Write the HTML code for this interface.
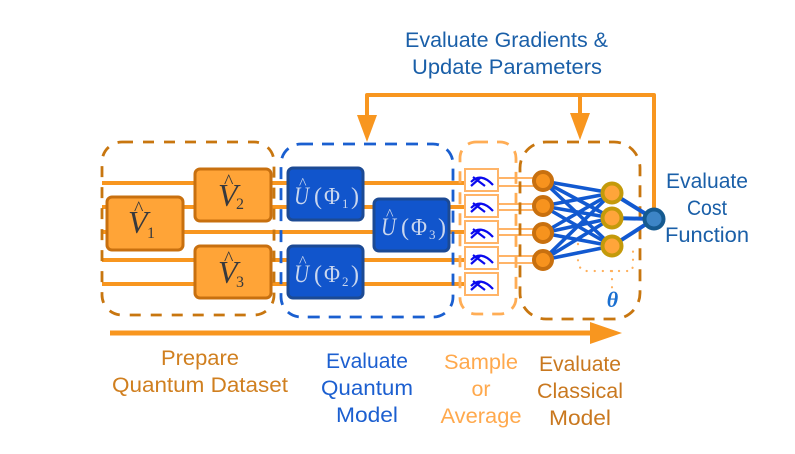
<!DOCTYPE html>
<html>
<head>
<meta charset="utf-8">
<style>
html,body{margin:0;padding:0;background:#fff;width:795px;height:454px;overflow:hidden}
svg{display:block}
text{font-family:"Liberation Sans",sans-serif}
.l{font-size:21px;text-anchor:middle}
text.r{font-family:"Liberation Serif",serif}
.i{font-style:italic}
.V{font-size:32px;font-style:italic}
.D{font-size:16px}
.H{font-size:20px}
.U{font-size:25px;font-style:italic}
.P{font-size:24px}
.S{font-size:13px}
.H2{font-size:16px}
</style>
</head>
<body>
<svg width="795" height="454" viewBox="0 0 795 454" xmlns="http://www.w3.org/2000/svg">
<rect width="795" height="454" fill="#fff"/>

<!-- wires -->
<g stroke="#f8961f" stroke-width="4" fill="none">
<path d="M102 183H465M102 207H465M102 232H465M102 260H465M102 284H465"/>
</g>

<!-- double wires -->
<g stroke="#ffb468" stroke-width="2" fill="none">
<path d="M499 178H536M499 186H536M499 204H536M499 210H536M499 229H536M499 235H536M499 256H536M499 263H536"/>
</g>

<!-- dashed boxes -->
<g fill="none" stroke-width="2.8">
<rect x="102" y="142" width="172" height="173" rx="20" stroke="#c8760f" stroke-dasharray="11 10"/>
<rect x="281" y="144" width="172" height="173" rx="20" stroke="#1a5fd0" stroke-dasharray="12 9"/>
<rect x="460" y="142" width="56" height="172" rx="16" stroke="#ffad55" stroke-dasharray="12 9"/>
<rect x="520" y="142" width="120" height="177" rx="26" stroke="#c8760f" stroke-dasharray="12 9"/>
</g>

<!-- V boxes -->
<g fill="#ffa437" stroke="#c8700f" stroke-width="3">
<rect x="195" y="169" width="76" height="52" rx="5"/>
<rect x="107" y="197" width="76" height="53" rx="5"/>
<rect x="195" y="246" width="76" height="52" rx="5"/>
</g>
<g fill="#37393d">
<text class="r V" x="218" y="206">V</text><text class="r H" x="224" y="188">^</text><text class="r D" x="236" y="209">2</text>
<text class="r V" x="128" y="233">V</text><text class="r H" x="134" y="215">^</text><text class="r D" x="147" y="238">1</text>
<text class="r V" x="218" y="283">V</text><text class="r H" x="224" y="265">^</text><text class="r D" x="236" y="287">3</text>
</g>

<!-- U boxes -->
<g fill="#1155cc" stroke="#1c4a94" stroke-width="3">
<rect x="288" y="168" width="75" height="52" rx="5"/>
<rect x="288" y="246" width="75" height="52" rx="5"/>
<rect x="374" y="199" width="75" height="52" rx="5"/>
</g>
<g fill="#c9d6ee">
<text class="r U" x="294" y="204" textLength="15" lengthAdjust="spacingAndGlyphs">U</text><text class="r H2" x="299" y="188.5">^</text><text class="r P" x="314" y="204">(</text><text class="r P" x="324" y="204" textLength="16" lengthAdjust="spacingAndGlyphs">Φ</text><text class="r S" x="342" y="208">1</text><text class="r P" x="351" y="204">)</text>
<text class="r U" x="294" y="282" textLength="15" lengthAdjust="spacingAndGlyphs">U</text><text class="r H2" x="299" y="266.5">^</text><text class="r P" x="314" y="282">(</text><text class="r P" x="324" y="282" textLength="16" lengthAdjust="spacingAndGlyphs">Φ</text><text class="r S" x="342" y="286">2</text><text class="r P" x="351" y="282">)</text>
<text class="r U" x="381" y="235" textLength="15" lengthAdjust="spacingAndGlyphs">U</text><text class="r H2" x="386" y="219.5">^</text><text class="r P" x="401" y="235">(</text><text class="r P" x="411" y="235" textLength="16" lengthAdjust="spacingAndGlyphs">Φ</text><text class="r S" x="429" y="239">3</text><text class="r P" x="438" y="235">)</text>
</g>

<!-- measure boxes -->
<g fill="#fff" stroke="#ffb468" stroke-width="2">
<rect x="465" y="169" width="33" height="22"/>
<rect x="465" y="195" width="33" height="22"/>
<rect x="465" y="221" width="33" height="22"/>
<rect x="465" y="247" width="33" height="22"/>
<rect x="465" y="273" width="33" height="22"/>
</g>
<g fill="none" stroke="#0a0aee" stroke-width="2.2">
<path d="M471 182Q481 172 493 185M473 177L485 186M471 186L480 178"/>
<path d="M471 208Q481 198 493 211M473 203L485 212M471 212L480 204"/>
<path d="M471 234Q481 224 493 237M473 229L485 238M471 238L480 230"/>
<path d="M471 260Q481 250 493 263M473 255L485 264M471 264L480 256"/>
<path d="M471 286Q481 276 493 289M473 281L485 290M471 290L480 282"/>
</g>

<!-- theta dotted -->
<g fill="none" stroke="#ffb05c" stroke-width="2.2" stroke-dasharray="0.1 8" stroke-linecap="round">
<path d="M578 244V265L583 271H632L633 265V244"/>
<path d="M612 271V292"/>
</g>
<text class="r" x="612.5" y="307" text-anchor="middle" style="font-size:22px;font-weight:bold;font-style:italic" fill="#1a6fd0">θ</text>

<!-- network -->
<g stroke="#1259d0" stroke-width="3.6" fill="none">
<path d="M543 181L612 193M543 181L612 218M543 181L612 246"/>
<path d="M543 206L612 193M543 206L612 218M543 206L612 246"/>
<path d="M543 233L612 193M543 233L612 218M543 233L612 246"/>
<path d="M543 260L612 193M543 260L612 218M543 260L612 246"/>
<path d="M612 193L654 219M612 218L654 219M612 246L654 219" stroke-width="4"/>
</g>
<g fill="#f7931e" stroke="#c8700f" stroke-width="4">
<circle cx="543" cy="181" r="9"/>
<circle cx="543" cy="206" r="9"/>
<circle cx="543" cy="233" r="9"/>
<circle cx="543" cy="260" r="9"/>
</g>
<g fill="#ffa53a" stroke="#c49a0a" stroke-width="4">
<circle cx="612" cy="193" r="9.5"/>
<circle cx="612" cy="218" r="9.5"/>
<circle cx="612" cy="246" r="9.5"/>
</g>

<!-- feedback -->
<g stroke="#f8961f" stroke-width="4" fill="none" stroke-linejoin="round">
<path d="M654 219V95H367V118"/>
<path d="M580 95V116"/>
</g>
<g fill="#f8961f">
<path d="M357 115H377L367 142Z"/>
<path d="M570 113H590L580 140Z"/>
<path d="M110 330.5H590V322L622 333L590 344V335.5H110Z"/>
</g>
<circle cx="654" cy="219" r="9.5" fill="#3d85c6" stroke="#155a90" stroke-width="4"/>

<!-- labels -->
<g fill="#1a5fa8">
<text class="l" x="506.5" y="47" textLength="203" lengthAdjust="spacingAndGlyphs">Evaluate Gradients &amp;</text>
<text class="l" x="507" y="74" textLength="190" lengthAdjust="spacingAndGlyphs">Update Parameters</text>
<text class="l" x="707" y="188" textLength="82" lengthAdjust="spacingAndGlyphs">Evaluate</text>
<text class="l" x="707" y="215" textLength="40" lengthAdjust="spacingAndGlyphs">Cost</text>
<text class="l" x="707" y="242" textLength="84" lengthAdjust="spacingAndGlyphs">Function</text>
</g>
<g fill="#d07f1f">
<text class="l" x="200" y="365" textLength="78" lengthAdjust="spacingAndGlyphs">Prepare</text>
<text class="l" x="200" y="392" textLength="176" lengthAdjust="spacingAndGlyphs">Quantum Dataset</text>
</g>
<g fill="#1c5fd0">
<text class="l" x="367" y="368" textLength="82" lengthAdjust="spacingAndGlyphs">Evaluate</text>
<text class="l" x="367" y="395" textLength="92" lengthAdjust="spacingAndGlyphs">Quantum</text>
<text class="l" x="367" y="422" textLength="62" lengthAdjust="spacingAndGlyphs">Model</text>
</g>
<g fill="#ffa94d">
<text class="l" x="481" y="369" textLength="74" lengthAdjust="spacingAndGlyphs">Sample</text>
<text class="l" x="481" y="396" textLength="19" lengthAdjust="spacingAndGlyphs">or</text>
<text class="l" x="481" y="423" textLength="81" lengthAdjust="spacingAndGlyphs">Average</text>
</g>
<g fill="#c9781f">
<text class="l" x="580" y="371" textLength="82" lengthAdjust="spacingAndGlyphs">Evaluate</text>
<text class="l" x="580" y="398" textLength="86" lengthAdjust="spacingAndGlyphs">Classical</text>
<text class="l" x="580" y="425" textLength="62" lengthAdjust="spacingAndGlyphs">Model</text>
</g>
</svg>
</body>
</html>
